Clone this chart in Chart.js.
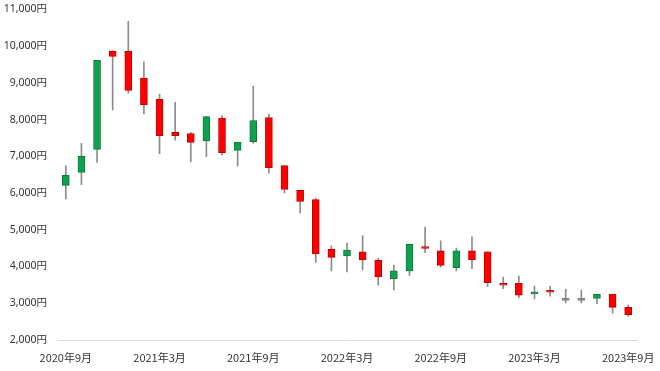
<!DOCTYPE html>
<html>
<head>
<meta charset="utf-8">
<script src="https://cdn.jsdelivr.net/npm/chart.js@4.4.0/dist/chart.umd.min.js"></script>
<style>
  html, body { margin: 0; padding: 0; background: #fff; }
  #wrap { width: 660px; height: 371px; }
</style>
</head>
<body>
<div id="wrap"><canvas id="myChart"></canvas></div>
<script>
// monthly candles, 2020年9月 .. 2023年9月
const months = [
  '2020年9月', '2020年10月', '2020年11月', '2020年12月', '2021年1月', '2021年2月',
  '2021年3月', '2021年4月', '2021年5月', '2021年6月', '2021年7月', '2021年8月',
  '2021年9月', '2021年10月', '2021年11月', '2021年12月', '2022年1月', '2022年2月',
  '2022年3月', '2022年4月', '2022年5月', '2022年6月', '2022年7月', '2022年8月',
  '2022年9月', '2022年10月', '2022年11月', '2022年12月', '2023年1月', '2023年2月',
  '2023年3月', '2023年4月', '2023年5月', '2023年6月', '2023年7月', '2023年8月',
  '2023年9月'
];
const openPrices = [6210, 6560, 7190, 9860, 9860, 9130, 8550, 7650, 7620, 7420, 8040, 7160,
  7400, 8050, 6750, 6070, 5820, 4470, 4290, 4400, 4170, 3670, 3880, 4540,
  4430, 3970, 4430, 4400, 3530, 3540, 3255, 3355, 3080, 3080, 3130, 3240, 2890];
const closePrices = [6480, 7000, 9610, 9720, 8790, 8400, 7560, 7560, 7380, 8080, 7100, 7380,
  7970, 6690, 6095, 5770, 4340, 4250, 4450, 4180, 3720, 3880, 4610, 4490,
  4030, 4430, 4180, 3560, 3490, 3220, 3300, 3300, 3080, 3080, 3240, 2890, 2680];
const highPrices = [6750, 7350, 9610, 9870, 10670, 9570, 8690, 8470, 7650, 8090, 8110, 7380,
  8910, 8150, 6750, 6070, 5860, 4560, 4640, 4840, 4230, 4040, 4610, 5070,
  4700, 4500, 4810, 4400, 3710, 3740, 3470, 3470, 3380, 3360, 3240, 3250, 2950];
const lowPrices = [5840, 6230, 6830, 8260, 8720, 8150, 7070, 7440, 6850, 6990, 7030, 6740,
  7350, 6550, 6000, 5460, 4110, 3880, 3850, 3910, 3490, 3360, 3760, 4380,
  3990, 3880, 3940, 3450, 3400, 3150, 3120, 3190, 3010, 3010, 2990, 2720, 2650];

function bodyColor(i, up, down, flat) {
  if (closePrices[i] > openPrices[i]) return up;
  if (closePrices[i] < openPrices[i]) return down;
  return flat;
}

const ctx = document.getElementById('myChart');
new Chart(ctx, {
  type: 'bar',
  data: {
    labels: months,
    datasets: [{
      label: 'wick',
      data: months.map((m, i) => [lowPrices[i], highPrices[i]]),
      backgroundColor: '#8c8c8c',
      barThickness: 1,
      grouped: false,
      order: 2
    }, {
      label: 'body',
      data: months.map((m, i) => [openPrices[i], closePrices[i]]),
      backgroundColor: months.map((m, i) => bodyColor(i, '#10a04e', '#ff0000', '#7f7f7f')),
      borderColor: months.map((m, i) => bodyColor(i, '#0c7a3c', '#c00000', '#7f7f7f')),
      borderWidth: 1,
      borderSkipped: false,
      barThickness: 7,
      minBarLength: 2,
      grouped: false,
      order: 1
    }]
  },
  options: {
    responsive: true,
    maintainAspectRatio: false,
    animation: false,
    layout: {
      padding: { top: 5, right: 24, left: 0, bottom: 0 }
    },
    scales: {
      x: {
        grid: { display: false },
        border: { display: true, color: '#d9d9d9', width: 1 },
        ticks: {
          autoSkip: false,
          maxRotation: 0,
          padding: 3,
          color: '#333',
          font: { family: '"Noto Sans CJK JP"', size: 11 },
          callback: function (value, index) {
            return index % 6 === 0 ? months[index] : '';
          }
        },
        afterFit: function (scale) { scale.height = 31; }
      },
      y: {
        min: 2000,
        max: 11000,
        grid: { display: false },
        border: { display: false },
        ticks: {
          stepSize: 1000,
          padding: 3,
          color: '#333',
          font: { family: '"Noto Sans", "Noto Sans CJK JP"', size: 10.5 },
          callback: function (value) {
            return value.toLocaleString('en-US') + '円';
          }
        },
        afterFit: function (scale) { scale.width = 58; }
      }
    },
    plugins: {
      legend: { display: false },
      tooltip: { enabled: false }
    }
  }
});
</script>
</body>
</html>
